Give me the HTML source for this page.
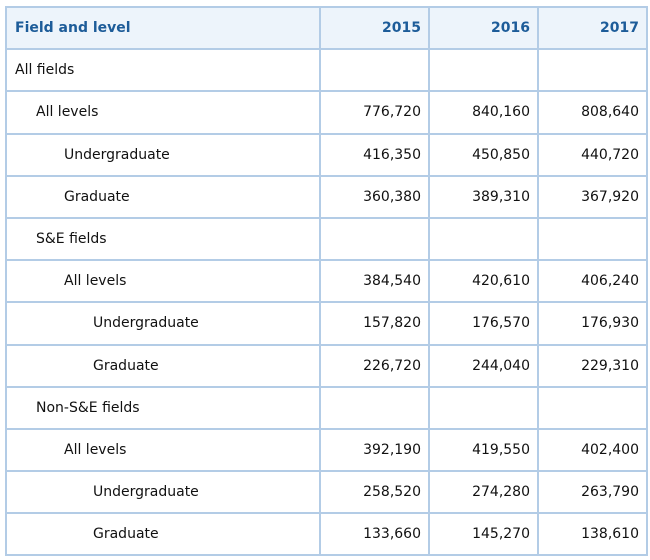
<!DOCTYPE html>
<html><head><style>
body{margin:0;background:#fff;width:650px;height:560px;overflow:hidden;font-family:"DejaVu Sans","Liberation Sans",sans-serif;}
table{position:absolute;left:5px;top:6px;border-collapse:collapse;table-layout:fixed;font-size:14px;color:#111;}
td,th{border:2px solid #b3cce6;height:40.2px;padding:0 7px;white-space:nowrap;box-sizing:content-box;}
th{background:#edf4fb;color:#1d5c99;font-weight:600;text-align:right;}
th:first-child{text-align:left;}
td{text-align:right;}
td:first-child{text-align:left;}
.l1{padding-left:8px}.l2{padding-left:29px}.l3{padding-left:57px}.l4{padding-left:86px}
</style></head><body>
<table>
<colgroup><col style="width:314px"><col style="width:109px"><col style="width:109px"><col style="width:109px"></colgroup>
<tr><th class="l1">Field and level</th><th>2015</th><th>2016</th><th>2017</th></tr>
<tr><td class="l1">All fields</td><td></td><td></td><td></td></tr>
<tr><td class="l2">All levels</td><td>776,720</td><td>840,160</td><td>808,640</td></tr>
<tr><td class="l3">Undergraduate</td><td>416,350</td><td>450,850</td><td>440,720</td></tr>
<tr><td class="l3">Graduate</td><td>360,380</td><td>389,310</td><td>367,920</td></tr>
<tr><td class="l2">S&amp;E fields</td><td></td><td></td><td></td></tr>
<tr><td class="l3">All levels</td><td>384,540</td><td>420,610</td><td>406,240</td></tr>
<tr><td class="l4">Undergraduate</td><td>157,820</td><td>176,570</td><td>176,930</td></tr>
<tr><td class="l4">Graduate</td><td>226,720</td><td>244,040</td><td>229,310</td></tr>
<tr><td class="l2">Non-S&amp;E fields</td><td></td><td></td><td></td></tr>
<tr><td class="l3">All levels</td><td>392,190</td><td>419,550</td><td>402,400</td></tr>
<tr><td class="l4">Undergraduate</td><td>258,520</td><td>274,280</td><td>263,790</td></tr>
<tr><td class="l4">Graduate</td><td>133,660</td><td>145,270</td><td>138,610</td></tr>
</table>
</body></html>
